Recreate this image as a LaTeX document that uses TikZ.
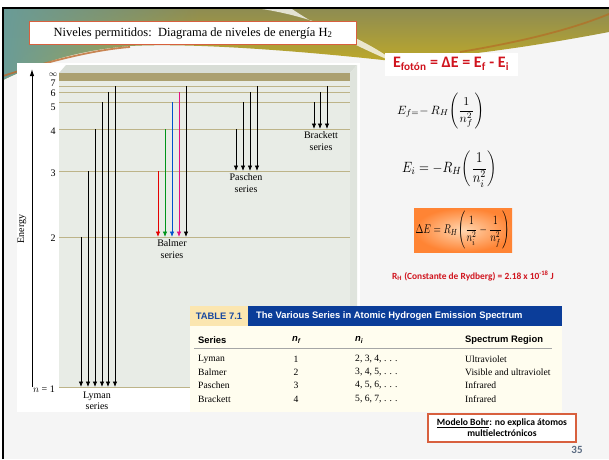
\documentclass[tikz,border=0pt]{standalone}
\usepackage{fontspec}
\usepackage{amsmath}
\setmainfont{Liberation Serif}
\newfontfamily\calib{Carlito}
\newfontfamily\arialf{Liberation Sans}
\usetikzlibrary{arrows.meta,fadings}
\definecolor{lvl}{HTML}{BDB489}
\definecolor{infband}{HTML}{ABA070}
\definecolor{panel}{HTML}{E8ECE6}
\definecolor{paneltop}{HTML}{D8DDD6}
\definecolor{panelside}{HTML}{DFE4DD}
\definecolor{titlered}{HTML}{D8603E}
\definecolor{redtxt}{HTML}{D0141E}
\definecolor{tabblue}{HTML}{0B3D99}
\definecolor{tabcream}{HTML}{FBE6B0}
\definecolor{tabbody}{HTML}{FFFDEF}
\definecolor{tabnum}{HTML}{1848A0}
\definecolor{bandtop}{HTML}{8E8C52}
\definecolor{bandbot}{HTML}{CDB21C}
\definecolor{bandteal}{HTML}{6A9C98}
\definecolor{pagenum}{HTML}{5A6B82}
\definecolor{orin}{HTML}{FFD6B0}
\definecolor{orout}{HTML}{FF8434}
\definecolor{bgray}{HTML}{F5F5F5}
\tikzset{
  trans/.style={-{Latex[length=5.5pt,width=4.5pt]}, line width=0.8pt},
  level/.style={lvl, line width=1pt},
  lab/.style={inner sep=0pt, font=\fontsize{10}{11.5}\selectfont, align=center},
  rowt/.style={inner sep=0pt, anchor=west, font=\fontsize{9.6}{11}\selectfont},
  colh/.style={inner sep=0pt, anchor=west, font=\arialf\bfseries\fontsize{9.4}{11}\selectfont},
}
\begin{document}
\begin{tikzpicture}[x=1pt,y=-1pt]
\useasboundingbox (0,0) rectangle (609,459);
\fill[white] (0,0) rectangle (609,459);
\fill[bgray] (3,9) rectangle (609,459);
% decorative top band
\begin{scope}
\clip (3,9) -- (609,9) -- (609,32) .. controls (540,45) and (470,56) .. (392,61)
  .. controls (330,54) and (200,42) .. (130,46) .. controls (80,50) and (40,62) .. (3,80) -- cycle;
\shade[top color=bandtop, bottom color=bandbot] (3,9) rectangle (609,80);
\fill[bandteal, path fading=east] (3,9) rectangle (200,80);
\fill[white, opacity=0.75] (262,9) .. controls (320,18) and (370,42) .. (398,64)
  .. controls (360,48) and (320,28) .. (292,9) -- cycle;
\end{scope}
\draw[line width=1.8pt, color=titlered!70!olive, opacity=0.8] (3,76) .. controls (40,64) and (90,50) .. (130,47);
\draw[line width=1.8pt, color=titlered!60!olive, opacity=0.7] (460,52) .. controls (520,42) and (570,30) .. (609,14);
% slide border
\draw[line width=1.6pt] (3,459) -- (3,8) -- (609,8);
% figure backdrop
\fill[white] (17,63) rectangle (360,412);
% panel
\fill[paneltop] (59,73) -- (66,65) -- (357,65) -- (350,73) -- cycle;
\fill[panelside] (350,73) -- (357,65) -- (357,380) -- (350,387) -- cycle;
\fill[panel] (59,73) rectangle (350,387);
\fill[infband] (59,73) rectangle (350,81);
\foreach \y in {86,92,102,129,171,237,387} \draw[level] (59,\y) -- (350,\y);
% level labels
\node[lab] (linf) at (53,75) {\fontsize{8}{9}\selectfont$\infty$};
\node[lab] (l7) at (53,83) {7};
\node[lab] (l6) at (53,93) {6};
\node[lab] (l5) at (53,107) {5};
\node[lab] (l4) at (53,131) {4};
\node[lab] (l3) at (53,173) {3};
\node[lab] (l2) at (53,238) {2};
\node[lab, anchor=east] (l1) at (55,389) {$n$ = 1};
% energy axis
\coordinate (ax0) at (32,387);
\coordinate (ax1) at (32,69);
\draw[-{Latex[length=7pt,width=4.5pt]}, line width=1pt] (ax0) -- (ax1);
\node[lab, rotate=90] (energy) at (22,229) {Energy};
% Lyman
\foreach \x/\y [count=\i] in {81/237,88/171,95/129,102/102,108/92,115/86}{
  \coordinate (lys\i) at (\x,\y); \coordinate (lye\i) at (\x,387);
  \draw[trans] (lys\i) -- (lye\i);}
\node[lab] (lyman) at (97,401) {Lyman\\series};
% Balmer
\foreach \x/\y/\c [count=\i] in {158/171/red!90!black,165/129/green!60!black!80!teal,172/102/blue!60!cyan!80!black,179/92/magenta!80!purple,186/86/black}{
  \coordinate (bas\i) at (\x,\y); \coordinate (bae\i) at (\x,237);
  \draw[trans, color=\c] (bas\i) -- (bae\i);}
\node[lab] (balmer) at (172,249) {Balmer\\series};
% Paschen
\foreach \x/\y [count=\i] in {236/129,243/102,250/92,257/86}{
  \coordinate (pas\i) at (\x,\y); \coordinate (pae\i) at (\x,171);
  \draw[trans] (pas\i) -- (pae\i);}
\node[lab] (paschen) at (246,183) {Paschen\\series};
% Brackett
\foreach \x/\y [count=\i] in {314/102,320/92,327/86}{
  \coordinate (brs\i) at (\x,\y); \coordinate (bre\i) at (\x,129);
  \draw[trans] (brs\i) -- (bre\i);}
\node[lab] (brackett) at (321,141) {Brackett\\series};
% title box
\node[draw=titlered, line width=1.3pt, fill=white, minimum width=327pt, minimum height=23pt, inner sep=0pt,
  font=\fontsize{12.5}{14}\selectfont] (title) at (193,33) {Niveles permitidos:\ \ Diagrama de niveles de energía H\textsubscript{2}};
% right side equations
\node[fill=white, minimum width=133pt, minimum height=23pt, inner sep=0pt, text=redtxt,
  font=\calib\bfseries\fontsize{16}{18}\selectfont] (efoton) at (451,64)
  {E\textsubscript{fotón} = ΔE = E\textsubscript{f} - E\textsubscript{i}};
\node[inner sep=0pt] (ef) at (440.5,111)
  {\resizebox*{87pt}{36pt}{$E_{f=}{-}\,R_H\!\left(\dfrac{1}{n_f^{2}}\right)$}};
\node[inner sep=0pt] (ei) at (449.5,169)
  {\resizebox*{95pt}{36pt}{$E_i=-R_H\!\left(\dfrac{1}{n_i^{2}}\right)$}};
\shade[inner color=orin, outer color=orout] (414,208) rectangle (512,252);
\node[inner sep=0pt] (de) at (462.5,230)
  {\resizebox*{94pt}{38pt}{$\Delta E=R_H\!\left(\dfrac{1}{n_i^{2}}-\dfrac{1}{n_f^{2}}\right)$}};
\node[inner sep=0pt, text=redtxt, font=\calib\bfseries\fontsize{9.4}{11}\selectfont] (rh) at (473,276)
  {R\textsubscript{H} (Constante de Rydberg) = 2.18 x 10\textsuperscript{-18} J};
% table
\fill[tabbody] (190,326) rectangle (562,412);
\fill[tabcream] (190,306) rectangle (248,326);
\fill[tabblue] (248,306) rectangle (562,326);
\node[inner sep=0pt, text=tabnum, font=\arialf\bfseries\fontsize{9.4}{11}\selectfont] (tnum) at (219,316) {TABLE 7.1};
\node[inner sep=0pt, anchor=west, text=white, font=\arialf\bfseries\fontsize{9.4}{11}\selectfont] (ttitle) at (256,316)
  {The Various Series in Atomic Hydrogen Emission Spectrum};
\node[colh] (cs) at (198,340) {Series};
\node[colh] (cnf) at (292,340) {\itshape n\textsubscript{f}};
\node[colh] (cni) at (355,340) {\itshape n\textsubscript{i}};
\node[colh] (csr) at (465,340) {Spectrum Region};
\draw[gray!70, line width=0.6pt] (194,348) -- (552,348);
\foreach \s/\nf/\ni/\reg/\y [count=\i] in {Lyman/1/{2, 3, 4, . . .}/Ultraviolet/359,
  Balmer/2/{3, 4, 5, . . .}/Visible and ultraviolet/372,
  Paschen/3/{4, 5, 6, . . .}/Infrared/385,
  Brackett/4/{5, 6, 7, . . .}/Infrared/399}{
  \node[rowt] (rs\i) at (198,\y) {\s};
  \node[rowt, anchor=center] (rf\i) at (296,\y) {\nf};
  \node[rowt] (ri\i) at (355,\y) {\ni};
  \node[rowt] (rr\i) at (465,\y) {\reg};}
% Bohr box
\node[draw=titlered, line width=1.2pt, fill=white, minimum width=148pt, minimum height=28pt, inner sep=0pt, align=center,
  font=\calib\bfseries\fontsize{9.6}{11}\selectfont] (bohr) at (502,428)
  {\underline{Modelo Bohr}: no explica átomos\\multielectrónicos};
\node[inner sep=0pt, text=pagenum, font=\calib\bfseries\fontsize{11}{12}\selectfont] (pnum) at (577,450) {35};
\end{tikzpicture}
\end{document}
